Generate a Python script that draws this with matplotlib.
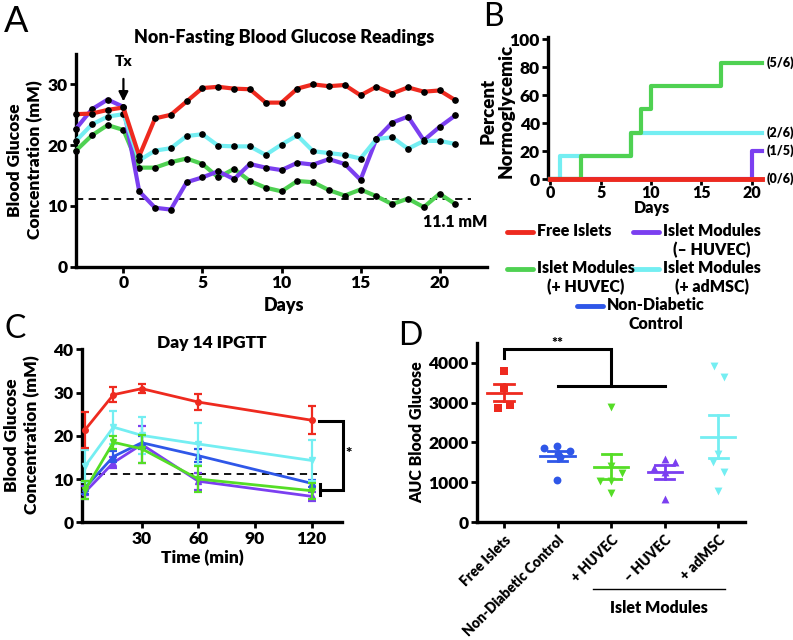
import matplotlib
matplotlib.use("Agg")
import matplotlib.pyplot as plt
import numpy as np

plt.rcParams['font.family'] = ['Lato', 'DejaVu Sans']
plt.rcParams['font.weight'] = 'heavy'
plt.rcParams['axes.labelweight'] = 'heavy'
BOLD = 'heavy'

RED = '#ee2a1f'
PURPLE = '#7b3ff0'
CYAN = '#74eef2'
GREEN_A = '#4fd152'
GREEN_C = '#55dd26'
BLUE = '#2f57e8'

# ---- panel A: non-fasting readings
days = list(range(-3, 22))
red_a = [25.1, 25.2, 25.8, 26.2, 18.2, 24.4, 25.0, 27.2, 29.4, 29.6, 29.3, 29.2, 27.0,
         27.0, 29.3, 30.0, 29.7, 29.9, 28.2, 29.6, 28.5, 29.5, 28.8, 29.0, 27.4]
purple_a = [22.7, 25.9, 27.5, 26.3, 12.4, 9.7, 9.4, 13.9, 14.7, 15.7, 14.4, 16.9, 16.3,
            15.9, 17.1, 16.8, 17.7, 16.9, 14.3, 21.0, 23.7, 24.7, 20.8, 23.0, 24.9]
cyan_a = [20.7, 23.4, 24.7, 25.1, 17.5, 19.1, 19.5, 21.5, 21.8, 19.9, 19.8, 19.8, 18.4,
          20.1, 21.6, 19.0, 18.7, 18.4, 17.8, 21.0, 21.3, 19.4, 20.7, 20.7, 20.2]
green_a = [19.1, 21.6, 23.3, 22.5, 16.3, 16.3, 17.2, 17.8, 16.9, 14.7, 16.1, 14.1, 13.0,
           12.4, 14.1, 13.9, 12.6, 11.7, 12.7, 11.6, 10.3, 11.2, 9.8, 12.0, 10.3]
threshold = 11.1

# ---- panel B: percent normoglycemic (step data)
green_b_days = [0, 3, 8, 9, 10, 17, 21]
green_b = [0, 16.7, 33.3, 50, 66.7, 83.3, 83.3]
cyan_b_days = [0, 1, 8, 21]
cyan_b = [0, 16.7, 33.3, 33.3]
purple_b_days = [0, 20, 21]
purple_b = [0, 20, 20]
red_b_days = [0, 21]
red_b = [0, 0]
b_fractions = ['(5/6)', '(2/6)', '(1/5)', '(0/6)']
b_frac_y = [83.3, 33.3, 20, 0]

# ---- panel C: day 14 IPGTT
t_min = [0, 15, 30, 60, 120]
red_c = [21.4, 29.5, 30.9, 27.8, 23.6]
red_c_err = [4.2, 1.8, 1.1, 1.8, 3.2]
cyan_c = [13.0, 22.0, 20.1, 18.1, 14.3]
cyan_c_err = [3.7, 3.8, 4.2, 4.9, 4.8]
blue_c = [8.0, 15.2, 18.4, 15.4, 9.0]
blue_c_err = [1.5, 1.2, 1.5, 1.5, 0.8]
green_c = [7.5, 18.5, 17.0, 10.0, 7.3]
green_c_err = [2.0, 1.5, 3.2, 3.0, 1.8]
purple_c = [7.0, 13.8, 18.0, 9.5, 6.0]
purple_c_err = [1.5, 1.2, 4.3, 2.0, 1.0]

# ---- panel D: AUC
d_labels = ['Free Islets', 'Non-Diabetic Control', '+ HUVEC', '\u2013 HUVEC', '+ adMSC']
auc_free = [3800, 3358, 2872, 2940]
auc_nondiab = [1855, 1912, 1787, 1645, 1060, 1713]
auc_huvec = [2898, 1243, 1043, 1043, 727, 1411]
auc_nohuvec = [1368, 1579, 1519, 1268, 576]
auc_admsc = [3917, 3650, 1704, 1519, 1268, 792]

fig = plt.figure(figsize=(7.93, 6.40), dpi=100)
W, H = 793, 640


def px_axes(x0, y0, x1, y1):
    # axes from pixel box (top-left origin)
    return fig.add_axes([x0 / W, 1 - y1 / H, (x1 - x0) / W, (y1 - y0) / H])


def style(ax, fs=11):
    for s in ['top', 'right']:
        ax.spines[s].set_visible(False)
    for s in ['left', 'bottom']:
        ax.spines[s].set_linewidth(2.4)
    ax.tick_params(width=2, length=4, labelsize=fs, pad=2)
    for lab in ax.get_xticklabels() + ax.get_yticklabels():
        lab.set_fontweight(BOLD)


# ---------------- A
axA = px_axes(76, 54, 487, 266.7)
for y, c, z in [(green_a, GREEN_A, 3), (purple_a, PURPLE, 4), (cyan_a, CYAN, 5), (red_a, RED, 6)]:
    axA.plot(days, y, color=c, lw=3, zorder=z, marker='o', ms=3.8, mfc='black', mec='black',
             clip_on=False)
axA.plot([-3, 22], [threshold, threshold], ls=(0, (4, 3)), color='black', lw=1.3, zorder=2)
axA.text(23, 7.4, '11.1 mM', ha='right', va='center', fontsize=11.5, fontweight=BOLD)
axA.annotate('Tx', xy=(0, 27.2), xytext=(0, 33.8), ha='center', va='center', fontsize=11,
             fontweight=BOLD, arrowprops=dict(arrowstyle='-|>', lw=1.6, color='black',
                                              mutation_scale=14, shrinkA=6, shrinkB=0))
axA.set_xlim(-3, 23)
axA.set_ylim(0, 35)
axA.set_xticks([0, 5, 10, 15, 20])
axA.set_yticks([0, 10, 20, 30])
style(axA, 12.5)

# ---------------- B
axB = px_axes(548.3, 36.7, 761.7, 179)
axB.step(cyan_b_days, cyan_b, where='post', color=CYAN, lw=3, clip_on=False, zorder=3)
axB.step(purple_b_days, purple_b, where='post', color=PURPLE, lw=3, clip_on=False, zorder=4)
axB.step(green_b_days, green_b, where='post', color=GREEN_A, lw=3, clip_on=False, zorder=5)
axB.step(red_b_days, red_b, where='post', color=RED, lw=3.5, clip_on=False, zorder=6)
for lab, yv in zip(b_fractions, b_frac_y):
    axB.text(21.5, yv, lab, ha='left', va='center', fontsize=9, fontweight=BOLD)
axB.set_xlim(-0.2, 21)
axB.set_ylim(0, 102)
axB.set_xticks([0, 5, 10, 15, 20])
axB.set_yticks([0, 20, 40, 60, 80, 100])
style(axB, 12.5)
axB.tick_params(axis='x', pad=0.5, labelsize=11.5)

# ---------------- C
axC = px_axes(81.7, 349.3, 341.7, 522.3)
series_c = [(purple_c, purple_c_err, PURPLE, '^'), (blue_c, blue_c_err, BLUE, '^'),
            (cyan_c, cyan_c_err, CYAN, 'v'), (green_c, green_c_err, GREEN_C, 'v'),
            (red_c, red_c_err, RED, 'o')]
for i, (y, e, c, m) in enumerate(series_c):
    axC.errorbar(t_min, y, yerr=e, color=c, lw=2, elinewidth=1.6, capsize=3, capthick=1.6,
                 marker=m, ms=4, zorder=3 + i, clip_on=False)
axC.plot([0, 123], [threshold, threshold], ls=(0, (4, 3)), color='black', lw=1.3, zorder=2)
axC.plot([124, 136.7, 136.7, 124.5], [23.5, 23.5, 7.5, 7.5], color='black', lw=2.2,
         clip_on=False, solid_joinstyle='miter')
axC.plot([124.5, 124.5], [6.2, 8.9], color='black', lw=2.2, clip_on=False)
axC.text(139.5, 15.8, '*', ha='center', va='center', fontsize=11, fontweight=BOLD)
axC.set_xlim(-1.8, 135.9)
axC.set_ylim(0, 40)
axC.set_xticks([30, 60, 90, 120])
axC.set_yticks([0, 10, 20, 30, 40])
style(axC, 12.5)

# ---------------- D
axD = px_axes(477.3, 343.3, 745, 522.3)
groups_d = [auc_free, auc_nondiab, auc_huvec, auc_nohuvec, auc_admsc]
offsets_d = [[0, 0, -0.11, 0.11],
             [-0.25, -0.02, 0.23, 0.04, -0.02, 0.0],
             [0, 0.2, -0.2, 0, 0, 0],
             [-0.2, 0, 0.2, 0, 0],
             [-0.08, 0.11, 0, -0.1, 0.11, 0]]
colors_d = [RED, BLUE, GREEN_C, PURPLE, CYAN]
markers_d = ['s', 'o', 'v', '^', 'v']
for i, (g, off, c, m) in enumerate(zip(groups_d, offsets_d, colors_d, markers_d)):
    g = np.array(g, dtype=float)
    axD.scatter(i + np.array(off), g, color=c, marker=m, s=32, zorder=3, linewidths=0)
    mean = g.mean()
    sem = g.std(ddof=1) / np.sqrt(len(g))
    axD.plot([i - 0.32, i + 0.32], [mean, mean], color=c, lw=2, zorder=4)
    axD.plot([i - 0.18, i + 0.18], [mean + sem] * 2, color=c, lw=2, zorder=4)
    axD.plot([i - 0.18, i + 0.18], [mean - sem] * 2, color=c, lw=2, zorder=4)
    axD.plot([i, i], [mean - sem, mean + sem], color=c, lw=2, zorder=4)
axD.plot([0, 0, 2, 2], [4125, 4336, 4336, 3416], color='black', lw=2.2, clip_on=False,
         solid_joinstyle='miter')
axD.plot([1, 3], [3416, 3416], color='black', lw=2.2)
axD.text(1, 4320, '**', ha='center', va='bottom', fontsize=10, fontweight=BOLD)
axD.set_xlim(-0.5, 4.5)
axD.set_ylim(0, 4485)
axD.set_xticks(range(5))
axD.set_xticklabels(d_labels, rotation=45, ha='right', rotation_mode='anchor')
axD.set_yticks([0, 1000, 2000, 3000, 4000])
style(axD, 12.5)
axD.tick_params(axis='x', pad=4)
for lab in axD.get_xticklabels():
    lab.set_fontsize(10)

# ---------------- overlay: labels, legend, panel letters
ov = fig.add_axes([0, 0, 1, 1], zorder=10)
ov.set_xlim(0, W)
ov.set_ylim(H, 0)
ov.axis('off')

for letter, x, y, fs in [('A', 16, 22, 26), ('B', 493, 17, 23), ('C', 15, 329, 23), ('D', 410, 336, 23)]:
    ov.text(x, y, letter, ha='center', va='center', fontsize=fs, fontweight='normal')

ov.text(284, 37, 'Non-Fasting Blood Glucose Readings', ha='center', va='center', fontsize=13)
ov.text(25, 160, 'Blood Glucose\nConcentration (mM)', rotation=90, ha='center', va='center',
        fontsize=12.5, linespacing=1.3)
ov.text(284, 305, 'Days', ha='center', va='center', fontsize=13)
ov.text(497, 111, 'Percent\nNormoglycemic', rotation=90, ha='center', va='center',
        fontsize=13.5, linespacing=1.1)
ov.text(652, 208, 'Days', ha='center', va='center', fontsize=11.5)
ov.text(212, 343, 'Day 14 IPGTT', ha='center', va='center', fontsize=12.5)
ov.text(22, 435, 'Blood Glucose\nConcentration (mM)', rotation=90, ha='center', va='center',
        fontsize=12.5, linespacing=1.3)
ov.text(202, 558, 'Time (min)', ha='center', va='center', fontsize=12.5)
ov.text(417, 432, 'AUC Blood Glucose', rotation=90, ha='center', va='center', fontsize=11.5)
ov.plot([593, 725], [589, 589], color='black', lw=1)
ov.text(659, 608, 'Islet Modules', ha='center', va='center', fontsize=11.5)

legend_items = [(507, 232, RED, 'Free Islets'),
                (633, 232, PURPLE, 'Islet Modules\n(\u2013 HUVEC)'),
                (507, 269, GREEN_A, 'Islet Modules\n(+ HUVEC)'),
                (633, 269, CYAN, 'Islet Modules\n(+ adMSC)'),
                (577, 306, BLUE, 'Non-Diabetic\nControl')]
for x, y, c, lab in legend_items:
    ov.plot([x, x + 26], [y, y], color=c, lw=3.5, solid_capstyle='round')
    ov.text(x + 30, y - 9, lab, ha='left', va='top', multialignment='center', fontsize=11.5,
            linespacing=1.2)

fig.savefig('out.png', dpi=100)
